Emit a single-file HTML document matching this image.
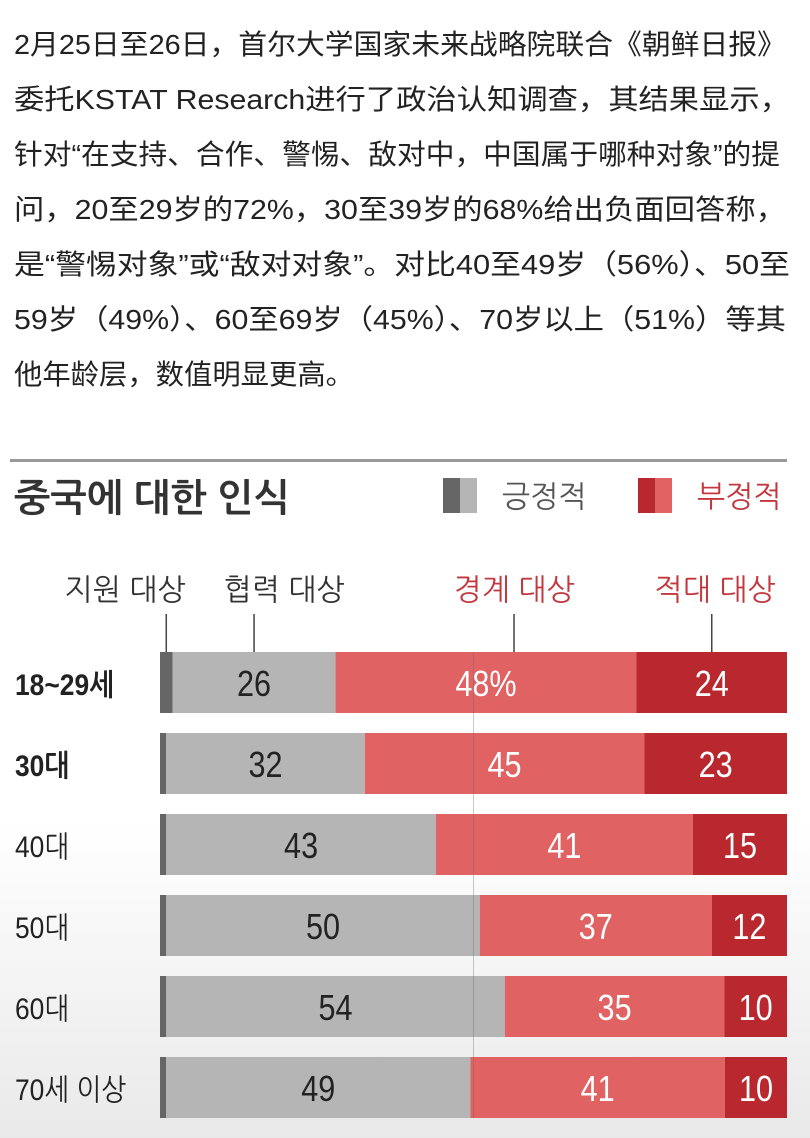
<!DOCTYPE html>
<html><head><meta charset="utf-8">
<style>
html,body{margin:0;padding:0}
body{width:810px;height:1138px;overflow:hidden;position:relative;font-family:"Liberation Sans","Noto Sans CJK SC",sans-serif;background:linear-gradient(#fff 0px,#fff 820px,#e9e9e9 1138px);color:#222}
.para{position:absolute;left:14px;top:17px;width:796px;font-size:28px;line-height:55px}
.para div{white-space:nowrap;transform-origin:0 50%;display:block;width:max-content}
.kr{font-family:"Liberation Sans","NanumGothic","Noto Sans CJK KR",sans-serif}
</style></head><body>
<div class="para">
<div data-w="772">2月25日至26日，首尔大学国家未来战略院联合《朝鲜日报》</div>
<div data-w="776">委托KSTAT Research进行了政治认知调查，其结果显示，</div>
<div data-w="766">针对“在支持、合作、警惕、敌对中，中国属于哪种对象”的提</div>
<div data-w="772">问，20至29岁的72%，30至39岁的68%给出负面回答称，</div>
<div data-w="776">是“警惕对象”或“敌对对象”。对比40至49岁（56%）、50至</div>
<div data-w="772">59岁（49%）、60至69岁（45%）、70岁以上（51%）等其</div>
<div data-w="340">他年龄层，数值明显更高。</div>
</div>
<svg id="chart" width="810" height="1138" style="position:absolute;left:0;top:0" class="kr"></svg>
<script>
const categories=["18~29세","30대","40대","50대","60대","70세 이상"];
const supportVals=[2,1,1,1,1,1];
const coopVals=[26,32,43,50,54,49];
const cautionVals=[48,45,41,37,35,41];
const hostileVals=[24,23,15,12,10,10];
const boldRows=[true,true,false,false,false,false];
const colLabels=["지원 대상","협력 대상","경계 대상","적대 대상"];
document.querySelectorAll('.para div').forEach(d=>{const w=d.getBoundingClientRect().width;d.style.transform='scaleX('+(+d.dataset.w/w)+')';});
const NS="http://www.w3.org/2000/svg";
const svg=document.getElementById('chart');
function mk(t,a,txt){const e=document.createElementNS(NS,t);for(const k in a)e.setAttribute(k,a[k]);if(txt!==undefined)e.textContent=txt;svg.appendChild(e);return e;}
const X0=160,X1=787,rowTop=652,rowStep=81,barH=61;
function xs(v,total){return (X1-X0)*v/total;}
let e=mk('rect',{x:10,y:459,width:777,height:3,fill:'#999'});


e=mk('text',{x:14,y:511,'font-size':38,'font-weight':'bold',fill:'#333',textLength:276,lengthAdjust:'spacingAndGlyphs'},'중국에 대한 인식');


mk('rect',{x:443,y:478,width:17,height:35,fill:'#666'});
mk('rect',{x:460,y:478,width:17,height:35,fill:'#b5b5b5'});
e=mk('text',{x:502,y:507,'font-size':30,fill:'#555'},'긍정적');


mk('rect',{x:638,y:478,width:17,height:35,fill:'#b8282e'});
mk('rect',{x:655,y:478,width:17,height:35,fill:'#e06262'});
e=mk('text',{x:697,y:507,'font-size':30,fill:'#c2383e'},'부정적');


const colX=[];
categories.forEach((c,i)=>{
  const tot=supportVals[i]+coopVals[i]+cautionVals[i]+hostileVals[i];
  const y=rowTop+i*rowStep;
  let x=X0;
  const segs=[[supportVals[i],'#666','support'],[coopVals[i],'#b5b5b5','cooperation'],[cautionVals[i],'#e06262','caution'],[hostileVals[i],'#b8282e','hostile']];
  segs.forEach((s,j)=>{
    const w=xs(s[0],tot);
    const r=mk('rect',{x:x,y:y,width:w,height:barH,fill:s[1]});
    
    
    if(i===0) colX.push(x+w/2);
    if(j>0){
      let label=String(s[0]);if(i===0&&j===2)label+='%';
      const t=mk('text',{x:x+w/2,y:y+44,'font-size':36,'text-anchor':'middle',fill:j===1?'#222':'#fff',transform:'translate('+(x+w/2)+',0) scale(0.85,1) translate('+(-(x+w/2))+',0)'},label);
      
      
    }
    x+=w;
  });
  const l=mk('text',{x:15,y:y+43,'font-size':30,fill:'#222','font-weight':boldRows[i]?'bold':'normal',transform:'translate(15,0) scale(0.88,1) translate(-15,0)'},c);
  
  
});
e=mk('line',{x1:X0+xs(50,100),x2:X0+xs(50,100),y1:rowTop,y2:rowTop+5*rowStep+barH,stroke:'#666','stroke-width':1,opacity:0.35});


const labelX=[125,284,514,715];
colLabels.forEach((c,j)=>{
  const t=mk('text',{x:labelX[j],y:600,'font-size':30,'text-anchor':'middle',fill:j<2?'#333':'#c2383e'},c);
  
  
  const lx=j===2?labelX[j]:colX[j];
  const ln=mk('line',{x1:lx,x2:lx,y1:614,y2:652,stroke:'#444','stroke-width':1.5});
  
  
});
</script>
</body></html>
